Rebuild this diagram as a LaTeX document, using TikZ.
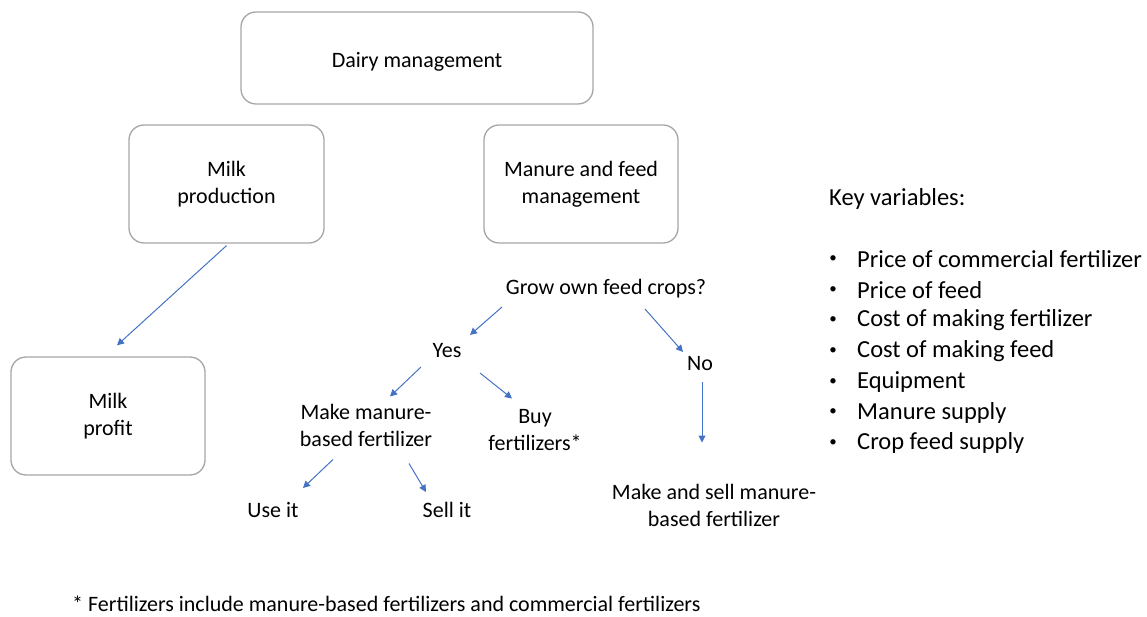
\documentclass[tikz,border=0pt]{standalone}
\usepackage{fontspec}
\setmainfont{Carlito}
\usepackage{tikz}
\usetikzlibrary{arrows.meta}
\usetikzlibrary{calc}
\definecolor{arrowblue}{HTML}{4472C4}
\definecolor{boxgray}{HTML}{A6A6A6}
\tikzset{
  box/.style={draw=boxgray, line width=1.3pt, rounded corners=15pt, align=center, font=\fontsize{22}{27}\selectfont},
  lbl/.style={align=center, inner sep=1pt, font=\fontsize{22}{27}\selectfont},
  keyitem/.style={anchor=west, inner sep=0pt, font=\fontsize{24.5}{30}\selectfont},
  arr/.style={-{Triangle[length=7pt,width=7pt]}, arrowblue, line width=1pt}
}
\begin{document}
\begin{tikzpicture}[x=1pt,y=1pt]
\useasboundingbox (0,0) rectangle (1147,616);
%\draw[red] (0,0) rectangle (1147,616);
\node[box, minimum width=352pt, minimum height=92pt, text height=24pt, text depth=5pt] (dairy) at (417,558) {Dairy management};
\node[box, minimum width=195pt, minimum height=118pt] (milkprod) at (226.5,432) {Milk\\production};
\node[box, minimum width=194pt, minimum height=118pt] (manure) at (581,432) {Manure and feed\\management};
\node[box, minimum width=194pt, minimum height=118pt] (profit) at (108,200) {Milk\\profit};

\node[lbl] (grow) at (606,327) {Grow own feed crops?};
\node[lbl] (yes) at (447,265) {Yes};
\node[lbl] (no) at (700,252) {No};
\node[lbl] (make) at (366,190.5) {Make manure-\\based fertilizer};
\node[lbl] (buy) at (535,185.5) {Buy\\fertilizers*};
\node[lbl] (useit) at (273,106) {Use it};
\node[lbl] (sellit) at (447,106) {Sell it};
\node[lbl] (makesell) at (714,110.5) {Make and sell manure-\\based fertilizer};

\node[keyitem] (key) at (829,417) {Key variables:};
\foreach \txt [count=\i] in {Price of commercial fertilizer, Price of feed, Cost of making fertilizer,
  Cost of making feed, Equipment, Manure supply, Crop feed supply}
{
  \node[keyitem] (kv\i) at (857,357-30.7*\i+30.7) {\txt};
  \node[inner sep=0pt, font=\fontsize{15}{18}\selectfont] (bul\i) at (833,357-30.7*\i+30.7) {\textbullet};
}

\node[anchor=west, inner sep=0pt, font=\fontsize{22}{26}\selectfont] (foot) at (72,12)
  {* Fertilizers include manure-based fertilizers and commercial fertilizers};

\path[arr]
([yshift=-2pt]milkprod.south) edge ([shift={(9pt,11pt)}]profit.north)
([shift={(-104pt,-18pt)}]grow.center) edge ([shift={(23pt,16pt)}]yes.center)
([shift={(39pt,-20pt)}]grow.center) edge ([shift={(-17pt,12pt)}]no.center)
([shift={(-26pt,-16pt)}]yes.center) edge ([shift={(24pt,29pt)}]make.center)
([shift={(33pt,-22pt)}]yes.center) edge ([shift={(-23pt,32pt)}]buy.center)
([shift={(2pt,-18pt)}]no.center) edge ([shift={(-12pt,63pt)}]makesell.center)
([shift={(-33pt,-34pt)}]make.center) edge ([shift={(30pt,22pt)}]useit.center)
([shift={(43pt,-38pt)}]make.center) edge ([shift={(-21pt,18pt)}]sellit.center);
\end{tikzpicture}
\end{document}
